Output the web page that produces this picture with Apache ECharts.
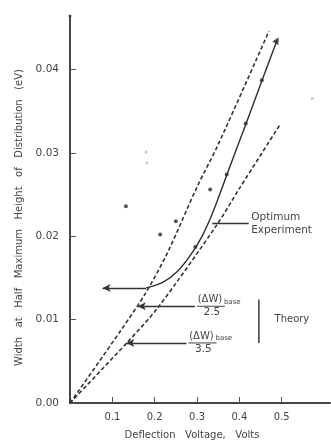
<!DOCTYPE html>
<html>
<head>
<meta charset="utf-8">
<script src="https://cdn.jsdelivr.net/npm/echarts@6/dist/echarts.min.js"></script>
<style>
html, body { margin: 0; padding: 0; background: #fff; }
#chart { width: 331px; height: 445px; }
</style>
</head>
<body>
<div id="chart"></div>
<script>
// theory lines, (dW)base / 2.5 and (dW)base / 3.5
var theory25X = [0, 0.12, 0.18, 0.23, 0.30, 0.35, 0.47];
var theory25Y = [0, 0.0087, 0.0133, 0.0180, 0.0259, 0.0310, 0.0446];
var theory35X = [0, 0.134, 0.207, 0.346, 0.401, 0.495];
var theory35Y = [0, 0.0072, 0.0114, 0.0213, 0.0258, 0.0333];

// optimum experiment curve
var optimumX = [0.180, 0.220, 0.256, 0.287, 0.313, 0.332, 0.349, 0.370, 0.415, 0.453, 0.489];
var optimumY = [0.0138, 0.0145, 0.0159, 0.0179, 0.0201, 0.0222, 0.0244, 0.0273, 0.0334, 0.0386, 0.0435];

// measured points
var pointsX = [0.132, 0.213, 0.250, 0.331, 0.296, 0.370, 0.415, 0.453];
var pointsY = [0.0236, 0.0202, 0.0218, 0.0256, 0.0187, 0.0274, 0.0335, 0.0387];
var faintX = [0.572, 0.180, 0.181];
var faintY = [0.0365, 0.0301, 0.0288];

var xTicks = [0.1, 0.2, 0.3, 0.4, 0.5];
var yTicks = [0, 0.01, 0.02, 0.03, 0.04];

var font = 'DejaVu Sans';
var ink = '#444';

function pairs(xs, ys) {
  return xs.map(function (x, i) { return [x, ys[i]]; });
}

var chart = echarts.init(document.getElementById('chart'));

var option = {
  animation: false,
  backgroundColor: '#fff',
  grid: { left: 70, right: 1, top: 16, bottom: 37 },
  xAxis: {
    type: 'value',
    min: 0,
    max: 0.614,
    name: 'Deflection   Voltage,   Volts',
    nameLocation: 'middle',
    nameGap: 27,
    nameTextStyle: { fontFamily: font, fontSize: 10, color: ink, padding: [0, 16, 0, 0] },
    axisLine: { lineStyle: { color: '#444', width: 2 } },
    axisTick: { inside: true, length: 6, customValues: xTicks, lineStyle: { color: '#555' } },
    axisLabel: { customValues: xTicks, fontFamily: font, fontSize: 10, color: ink, margin: 9 },
    splitLine: { show: false }
  },
  yAxis: {
    type: 'value',
    min: 0,
    max: 0.0464,
    name: 'Width   at   Half   Maximum   Height   of   Distribution   (eV)',
    nameLocation: 'middle',
    nameGap: 45,
    nameRotate: 90,
    nameTextStyle: { fontFamily: font, fontSize: 10, color: ink, padding: [0, 16, 0, 0] },
    axisLine: { symbol: ['none', 'circle'], symbolSize: [3, 3], lineStyle: { color: '#444', width: 2 } },
    axisTick: { inside: true, length: 6, customValues: yTicks, lineStyle: { color: '#555' } },
    axisLabel: {
      customValues: yTicks, fontFamily: font, fontSize: 10.5, color: ink, margin: 11,
      formatter: function (v) { return v.toFixed(2); }
    },
    splitLine: { show: false }
  },
  series: [
    {
      name: 'theory 2.5',
      type: 'line',
      data: pairs(theory25X, theory25Y),
      smooth: 0.3,
      showSymbol: false,
      lineStyle: { color: '#333', width: 1.6, type: [4, 2.5] }
    },
    {
      name: 'theory 3.5',
      type: 'line',
      data: pairs(theory35X, theory35Y),
      smooth: 0.3,
      showSymbol: false,
      lineStyle: { color: '#333', width: 1.6, type: [4, 2.5] }
    },
    {
      name: 'Optimum Experiment',
      type: 'line',
      data: pairs(optimumX, optimumY),
      smooth: 0.3,
      showSymbol: false,
      lineStyle: { color: '#2e2e2e', width: 1.4 },
      markLine: {
        silent: true,
        symbol: ['none', 'arrow'],
        symbolSize: [6, 8],
        label: { show: false },
        lineStyle: { color: '#333', width: 1.3, type: 'solid' },
        data: [
          [{ coord: [0.180, 0.0138] }, { coord: [0.077, 0.0138] }],
          [{ coord: [0.295, 0.0116] }, { coord: [0.160, 0.0116] }],
          [{ coord: [0.275, 0.0072] }, { coord: [0.133, 0.0072] }],
          [{ coord: [0.336, 0.0215], symbol: 'none' }, { coord: [0.422, 0.0215], symbol: 'none' }]
        ]
      }
    },
    {
      name: 'points',
      type: 'scatter',
      data: pairs(pointsX, pointsY),
      symbolSize: 4,
      itemStyle: { color: '#2a2a2a' }
    },
    {
      name: 'end',
      type: 'scatter',
      data: [[optimumX[optimumX.length - 1], optimumY[optimumY.length - 1]]],
      symbol: 'triangle',
      symbolSize: 7,
      symbolRotate: -30,
      itemStyle: { color: '#222' }
    },
    {
      name: 'faint',
      type: 'scatter',
      data: pairs(faintX, faintY),
      symbolSize: 3,
      itemStyle: { color: '#bbb' }
    }
  ]
};

chart.setOption(option);

// annotations placed on data anchors
function px(x, y) { return chart.convertToPixel({ gridIndex: 0 }, [x, y]); }

function fraction(anchor, denom) {
  var p = px(anchor[0], anchor[1]);
  var tx = { fontFamily: font, fill: ink };
  return [
    { type: 'text', x: p[0] + 15, y: p[1] - 2, style: Object.assign({ text: '(ΔW)', fontSize: 10, align: 'center', verticalAlign: 'bottom' }, tx) },
    { type: 'text', x: p[0] + 29, y: p[1] - 1, style: Object.assign({ text: 'base', fontSize: 7, align: 'left', verticalAlign: 'bottom' }, tx) },
    { type: 'line', shape: { x1: p[0] + 2, y1: p[1], x2: p[0] + 30, y2: p[1] }, style: { stroke: ink, lineWidth: 1 } },
    { type: 'text', x: p[0] + 17, y: p[1] + 1, style: Object.assign({ text: denom, fontSize: 10.5, align: 'center', verticalAlign: 'top' }, tx) }
  ];
}

var opt = px(0.428, 0.0215);
var bar1 = px(0.446, 0.0124);
var bar2 = px(0.446, 0.0072);
var th = px(0.483, 0.0100);

var graphics = [
  { type: 'text', x: opt[0], y: opt[1], style: { text: 'Optimum\nExperiment', fontFamily: font, fontSize: 10.5, lineHeight: 13, fill: ink, align: 'left', verticalAlign: 'middle' } },
  { type: 'line', shape: { x1: bar1[0], y1: bar1[1], x2: bar2[0], y2: bar2[1] }, style: { stroke: ink, lineWidth: 1.6 } },
  { type: 'text', x: th[0], y: th[1], style: { text: 'Theory', fontFamily: font, fontSize: 10, fill: ink, align: 'left', verticalAlign: 'middle' } }
].concat(fraction([0.295, 0.0116], '2.5'), fraction([0.275, 0.0072], '3.5'));

chart.setOption({ graphic: graphics });
</script>
</body>
</html>
